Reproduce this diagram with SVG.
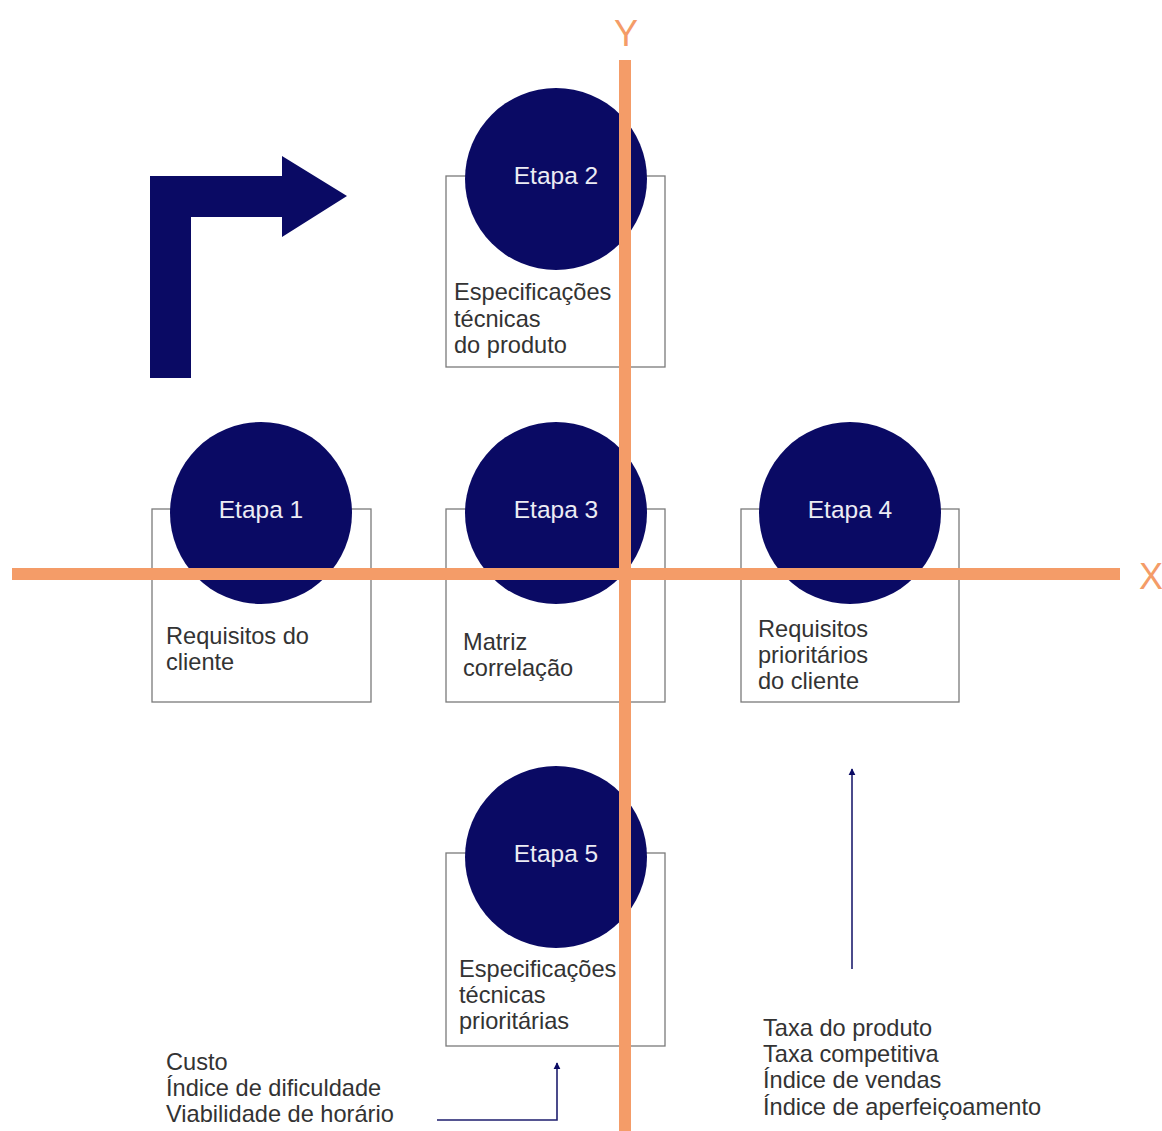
<svg xmlns="http://www.w3.org/2000/svg" width="1162" height="1131" viewBox="0 0 1162 1131">
<defs>
<style>
.box{fill:#ffffff;stroke:#7a7a7a;stroke-width:1.3}
.circ{fill:#0A0A64}
.etapa{font-family:"Liberation Sans",Arial,sans-serif;font-size:24.5px;fill:#ECECF4;text-anchor:middle}
.lbl{font-family:"Liberation Sans",Arial,sans-serif;font-size:23.6px;fill:#333333}
.axis{stroke:#F49C68;stroke-width:12;fill:none}
.axlbl{font-family:"Liberation Sans",Arial,sans-serif;font-size:36px;fill:#F49C68;text-anchor:middle}
.conn{stroke:#1E1E6E;stroke-width:1.6;fill:none}
</style>
<marker id="ah" viewBox="0 0 10 10" refX="9" refY="5" markerWidth="7" markerHeight="9" markerUnits="userSpaceOnUse" orient="auto">
<path d="M0,0 L10,5 L0,10 Z" fill="#0A0A64"/>
</marker>
</defs>
<rect width="1162" height="1131" fill="#ffffff"/>

<polygon id="bigArrow" points="150,378 150,176 282,176 282,156 347,196 282,237 282,217 191,217 191,378" fill="#0A0A64"/>

<g id="etapa1">
<rect class="box" x="152" y="509" width="219" height="193"/>
<circle class="circ" cx="261" cy="513" r="91"/>
<text class="etapa" x="261" y="518">Etapa 1</text>
<text class="lbl" x="166" y="644">Requisitos do</text>
<text class="lbl" x="166" y="670">cliente</text>
</g>
<g id="etapa2">
<rect class="box" x="446" y="176" width="219" height="191"/>
<circle class="circ" cx="556" cy="179" r="91"/>
<text class="etapa" x="556" y="184">Etapa 2</text>
<text class="lbl" x="454" y="300">Especificações</text>
<text class="lbl" x="454" y="327">técnicas</text>
<text class="lbl" x="454" y="353">do produto</text>
</g>
<g id="etapa3">
<rect class="box" x="446" y="509" width="219" height="193"/>
<circle class="circ" cx="556" cy="513" r="91"/>
<text class="etapa" x="556" y="518">Etapa 3</text>
<text class="lbl" x="463" y="650">Matriz</text>
<text class="lbl" x="463" y="676">correlação</text>
</g>
<g id="etapa4">
<rect class="box" x="741" y="509" width="218" height="193"/>
<circle class="circ" cx="850" cy="513" r="91"/>
<text class="etapa" x="850" y="518">Etapa 4</text>
<text class="lbl" x="758" y="637">Requisitos</text>
<text class="lbl" x="758" y="663">prioritários</text>
<text class="lbl" x="758" y="689">do cliente</text>
</g>
<g id="etapa5">
<rect class="box" x="446" y="853" width="219" height="193"/>
<circle class="circ" cx="556" cy="857" r="91"/>
<text class="etapa" x="556" y="862">Etapa 5</text>
<text class="lbl" x="459" y="977">Especificações</text>
<text class="lbl" x="459" y="1003">técnicas</text>
<text class="lbl" x="459" y="1029">prioritárias</text>
</g>

<g id="axes">
<line class="axis" x1="12" y1="574" x2="1120" y2="574"/>
<line class="axis" x1="625" y1="60" x2="625" y2="1131"/>
<text class="axlbl" x="626" y="46">Y</text>
<text class="axlbl" x="1151" y="589">X</text>
</g>

<g id="notes">
<text class="lbl" x="166" y="1070">Custo</text>
<text class="lbl" x="166" y="1096">Índice de dificuldade</text>
<text class="lbl" x="166" y="1122">Viabilidade de horário</text>
<text class="lbl" x="763" y="1036">Taxa do produto</text>
<text class="lbl" x="763" y="1062">Taxa competitiva</text>
<text class="lbl" x="763" y="1088">Índice de vendas</text>
<text class="lbl" x="763" y="1115">Índice de aperfeiçoamento</text>
</g>

<g id="connectors">
<polyline class="conn" points="437,1120 557,1120 557,1063" marker-end="url(#ah)"/>
<line class="conn" x1="852" y1="969" x2="852" y2="769" marker-end="url(#ah)"/>
</g>
</svg>
